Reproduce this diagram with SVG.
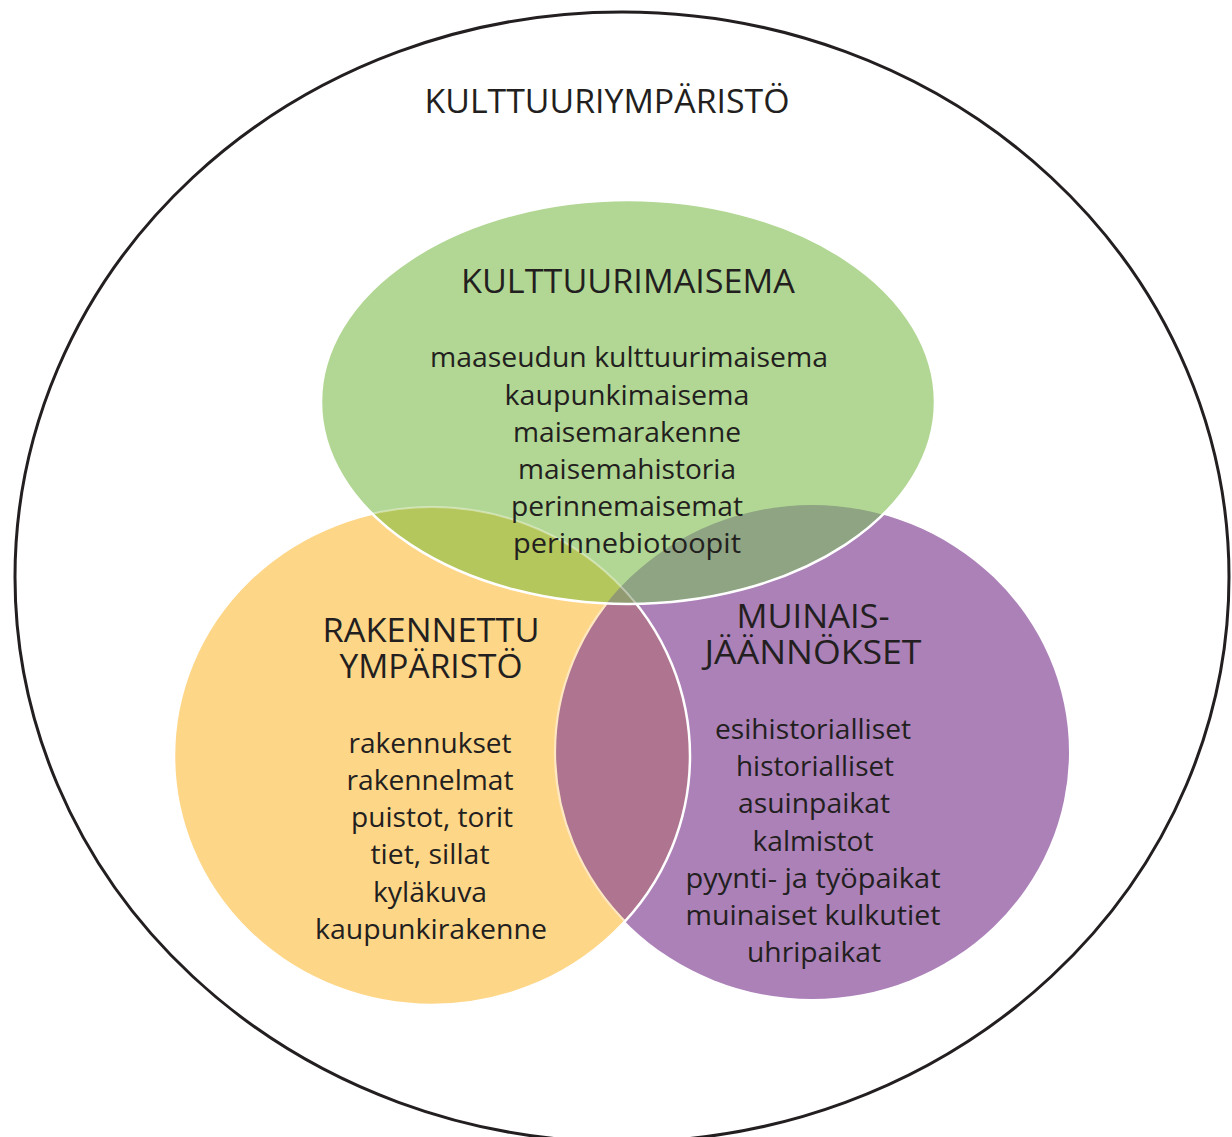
<svg xmlns="http://www.w3.org/2000/svg" width="1232" height="1137" viewBox="0 0 1232 1137">
  <style>
    .t { font-family: "Open Sans", "Noto Sans", "DejaVu Sans", sans-serif; fill: #231f20; text-anchor: middle; }
    .h { font-size: 33px; }
    .b { font-size: 28px; }
    .top { font-size: 33px; }
  </style>
  <defs>
    <ellipse id="eG" cx="628" cy="402" rx="307" ry="202"/>
    <ellipse id="eO" cx="432" cy="756" rx="258" ry="249"/>
    <ellipse id="eP" cx="812" cy="752" rx="257" ry="247"/>
    <clipPath id="cO"><use href="#eO"/></clipPath>
    <clipPath id="cP"><use href="#eP"/></clipPath>
    <clipPath id="cG"><use href="#eG"/></clipPath>
  </defs>

  <rect width="1232" height="1137" fill="#ffffff"/>

  <g id="kulttuuriymparisto">
    <ellipse cx="622" cy="577" rx="607" ry="565" fill="none" stroke="#231f20" stroke-width="3"/>
    <text class="t top" x="607" y="113" textLength="365" lengthAdjust="spacingAndGlyphs">KULTTUURIYMPÄRISTÖ</text>
  </g>

  <g id="shapes">
    <use href="#eP" fill="#ab81b8"/>
    <use href="#eO" fill="#fed688"/>
    <g clip-path="url(#cP)"><use href="#eO" fill="#ae7490"/></g>
    <g clip-path="url(#cO)"><use href="#eP" fill="none" stroke="#fde7c0" stroke-width="2.2"/></g>
    <use href="#eO" fill="none" stroke="#ffffff" stroke-width="2.5"/>
    <use href="#eG" fill="#b2d794"/>
    <g clip-path="url(#cO)"><use href="#eG" fill="#b4c75d"/></g>
    <g clip-path="url(#cP)"><use href="#eG" fill="#8ea483"/></g>
    <g clip-path="url(#cP)"><g clip-path="url(#cO)"><use href="#eG" fill="#919a70"/></g></g>
    <g clip-path="url(#cG)"><use href="#eO" fill="none" stroke="#ffffff" stroke-opacity="0.4" stroke-width="2"/></g>
    <use href="#eG" fill="none" stroke="#ffffff" stroke-width="2.5"/>
  </g>

  <g id="kulttuurimaisema">
    <text class="t h" x="628" y="293" textLength="334" lengthAdjust="spacingAndGlyphs">KULTTUURIMAISEMA</text>
    <text class="t b" x="629" y="367" textLength="398" lengthAdjust="spacingAndGlyphs">maaseudun kulttuurimaisema</text>
    <text class="t b" x="627" y="405" textLength="245" lengthAdjust="spacingAndGlyphs">kaupunkimaisema</text>
    <text class="t b" x="627" y="442" textLength="228" lengthAdjust="spacingAndGlyphs">maisemarakenne</text>
    <text class="t b" x="627" y="479" textLength="218" lengthAdjust="spacingAndGlyphs">maisemahistoria</text>
    <text class="t b" x="627" y="516" textLength="232" lengthAdjust="spacingAndGlyphs">perinnemaisemat</text>
    <text class="t b" x="627" y="553" textLength="228" lengthAdjust="spacingAndGlyphs">perinnebiotoopit</text>
  </g>

  <g id="rakennettu-ymparisto">
    <text class="t h" x="431" y="642" textLength="217" lengthAdjust="spacingAndGlyphs">RAKENNETTU</text>
    <text class="t h" x="431" y="678" textLength="183" lengthAdjust="spacingAndGlyphs">YMPÄRISTÖ</text>
    <text class="t b" x="430" y="753" textLength="163" lengthAdjust="spacingAndGlyphs">rakennukset</text>
    <text class="t b" x="430" y="790" textLength="167" lengthAdjust="spacingAndGlyphs">rakennelmat</text>
    <text class="t b" x="432" y="827" textLength="162" lengthAdjust="spacingAndGlyphs">puistot, torit</text>
    <text class="t b" x="430" y="864" textLength="119" lengthAdjust="spacingAndGlyphs">tiet, sillat</text>
    <text class="t b" x="430" y="902" textLength="114" lengthAdjust="spacingAndGlyphs">kyläkuva</text>
    <text class="t b" x="431" y="939" textLength="232" lengthAdjust="spacingAndGlyphs">kaupunkirakenne</text>
  </g>

  <g id="muinaisjaannokset">
    <text class="t h" x="813" y="628" textLength="153" lengthAdjust="spacingAndGlyphs">MUINAIS-</text>
    <text class="t h" x="813" y="664" textLength="217" lengthAdjust="spacingAndGlyphs">JÄÄNNÖKSET</text>
    <text class="t b" x="813" y="739" textLength="196" lengthAdjust="spacingAndGlyphs">esihistorialliset</text>
    <text class="t b" x="815" y="776" textLength="158" lengthAdjust="spacingAndGlyphs">historialliset</text>
    <text class="t b" x="814" y="813" textLength="152" lengthAdjust="spacingAndGlyphs">asuinpaikat</text>
    <text class="t b" x="813" y="851" textLength="121" lengthAdjust="spacingAndGlyphs">kalmistot</text>
    <text class="t b" x="813" y="888" textLength="255" lengthAdjust="spacingAndGlyphs">pyynti- ja työpaikat</text>
    <text class="t b" x="813" y="925" textLength="255" lengthAdjust="spacingAndGlyphs">muinaiset kulkutiet</text>
    <text class="t b" x="814" y="962" textLength="134" lengthAdjust="spacingAndGlyphs">uhripaikat</text>
  </g>
</svg>
